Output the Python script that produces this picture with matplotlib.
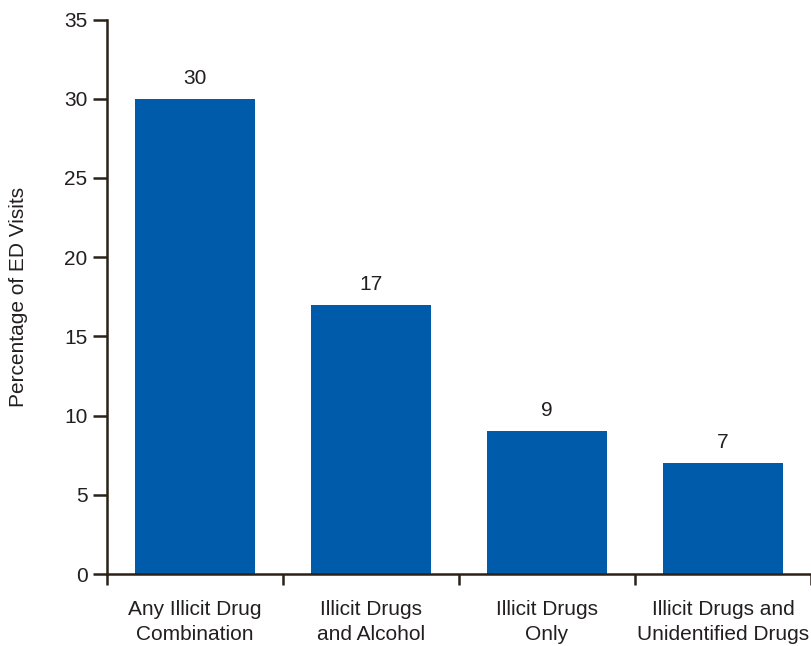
import matplotlib
matplotlib.use("Agg")
import matplotlib.pyplot as plt
import numpy as np

categories = ["Any Illicit Drug\nCombination", "Illicit Drugs\nand Alcohol",
              "Illicit Drugs\nOnly", "Illicit Drugs and\nUnidentified Drugs"]
values = [30, 17, 9, 7]
yticks = [0, 5, 10, 15, 20, 25, 30, 35]

plt.rcParams['font.family'] = ['Liberation Sans', 'DejaVu Sans']
text_color = "#231f20"
axis_color = "#2b2116"
bar_color = "#005baa"
fs = 15

fig = plt.figure(figsize=(8.12, 6.46), dpi=100)
ax = fig.add_axes([107/812, 1-574/646, (811-107)/812, (574-19.5)/646])

x = np.arange(len(categories))
bars = ax.bar(x, values, width=0.68, color=bar_color, zorder=2)
for xi, v in zip(x, values):
    ax.annotate(f"{v}", (xi, v), xytext=(0, 8), textcoords="offset points",
                ha="center", va="bottom", fontsize=fs, color=text_color)

ax.set_xlim(-0.5, len(categories) - 0.5)
ax.set_ylim(0, 35)
ax.set_yticks(yticks)
ax.set_yticklabels([str(t) for t in yticks])

ax.set_xticks(np.arange(len(categories) + 1) - 0.5)
ax.set_xticklabels([])
ax.set_xticks(x, minor=True)
ax.set_xticklabels(categories, minor=True, fontsize=fs, color=text_color,
                   linespacing=1.38)
ax.tick_params(axis='x', which='minor', length=0, pad=19)
ax.tick_params(axis='x', which='major', length=8, width=1.8, color=axis_color,
               direction='out')
ax.tick_params(axis='y', length=10, width=1.8, color=axis_color, direction='out',
               labelsize=fs, labelcolor=text_color, pad=4)

for s in ['top', 'right']:
    ax.spines[s].set_visible(False)
for s in ['left', 'bottom']:
    ax.spines[s].set_color(axis_color)
    ax.spines[s].set_linewidth(1.8)

ax.set_ylabel("Percentage of ED Visits", fontsize=fs, color=text_color)
ax.yaxis.set_label_coords(-79/704, 0.5)

fig.savefig("out.png", dpi=100)
